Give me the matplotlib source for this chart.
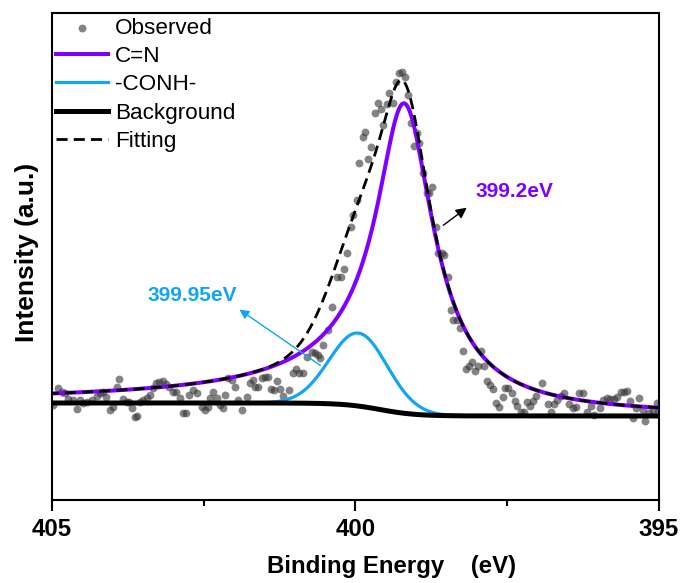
import numpy as np
import matplotlib
matplotlib.use('Agg')
import matplotlib.pyplot as plt

plt.rcParams['font.family'] = ['Liberation Sans', 'DejaVu Sans']

# N 1s spectrum, observed points (binding energy in eV, intensity in counts)
be_obs = [404.98, 404.90, 404.84, 404.79, 404.74, 404.65, 404.59, 404.54, 404.49, 404.42,
          404.34, 404.26, 404.21, 404.16, 404.11, 404.04, 403.99, 403.93, 403.90, 403.83,
          403.76, 403.73, 403.68, 403.63, 403.60, 403.55, 403.50, 403.44, 403.39, 403.34,
          403.29, 403.24, 403.17, 403.12, 403.07, 403.01, 402.96, 402.89, 402.84, 402.79,
          402.74, 402.68, 402.61, 402.53, 402.48, 402.43, 402.40, 402.35, 402.28, 402.23,
          402.18, 402.15, 402.10, 402.03, 401.99, 401.94, 401.87, 401.79, 401.74, 401.69,
          401.66, 401.61, 401.54, 401.49, 401.44, 401.39, 401.34, 401.29, 401.24, 401.19,
          401.10, 401.03, 400.98, 400.93, 400.86, 400.80, 400.72, 400.67, 400.62, 400.58,
          400.54, 400.45, 400.39, 400.30, 400.24, 400.19, 400.14, 400.07, 400.04, 399.98,
          399.94, 399.88, 399.84, 399.79, 399.74, 399.68, 399.63, 399.58, 399.55, 399.48,
          399.45, 399.38, 399.33, 399.28, 399.23, 399.18, 399.14, 399.09, 399.04, 398.99,
          398.95, 398.89, 398.82, 398.79, 398.74, 398.67, 398.64, 398.58, 398.54, 398.48,
          398.43, 398.39, 398.33, 398.28, 398.23, 398.18, 398.13, 398.08, 398.03, 397.98,
          397.93, 397.88, 397.83, 397.78, 397.73, 397.69, 397.64, 397.57, 397.54, 397.49,
          397.42, 397.37, 397.34, 397.27, 397.22, 397.17, 397.13, 397.08, 397.03, 396.93,
          396.83, 396.78, 396.73, 396.68, 396.61, 396.56, 396.48, 396.42, 396.37, 396.32,
          396.25, 396.19, 396.12, 396.07, 395.97, 395.92, 395.86, 395.81, 395.74, 395.69,
          395.63, 395.58, 395.53, 395.48, 395.43, 395.38, 395.33, 395.26, 395.23, 395.16,
          395.10, 395.03, 395.02]
int_obs = [950, 1120, 1080, 1070, 1010, 1000, 910, 1000, 970, 980,
           1000, 1040, 1070, 1080, 1030, 900, 930, 1130, 1210, 1010,
           980, 980, 920, 830, 840, 980, 1000, 1020, 1050, 1120,
           1170, 1180, 1190, 1160, 1130, 1080, 1080, 1020, 870, 870,
           1050, 1100, 1070, 930, 900, 930, 1020, 1080, 1020, 950,
           920, 1050, 1220, 1200, 1130, 1000, 900, 1030, 1170, 1200,
           1130, 1130, 1220, 1230, 1230, 1110, 1100, 1190, 1110, 1040,
           1100, 1270, 1310, 1270, 1270, 1430, 1480, 1470, 1450, 1420,
           1550, 1700, 1930, 2230, 2230, 2310, 2470, 2730, 2850, 3000,
           3370, 3630, 3680, 3410, 3530, 3870, 3970, 3910, 3750, 3960,
           4070, 3970, 4180, 4270, 4280, 4230, 4050, 3770, 3540, 3670,
           3570, 3270, 3070, 3070, 3130, 2730, 2470, 2470, 2450, 2230,
           1900, 1800, 1800, 1720, 1490, 1310, 1340, 1380, 1290, 1340,
           1490, 1340, 1190, 1150, 1110, 970, 930, 1030, 1120, 1120,
           1070, 990, 940, 880, 880, 980, 940, 990, 1040, 1170,
           960, 880, 960, 1000, 1040, 1070, 960, 920, 930, 1070,
           1070, 880, 940, 850, 920, 1000, 1020, 1010, 1010, 1030,
           1080, 1080, 1090, 990, 820, 920, 1020, 900, 790, 870,
           900, 970, 880]

# fit parameters
bg_high, bg_low = 970, 840          # background level on the high / low BE side
bg_step_center, bg_step_width = 399.6, 0.3
cn_center, cn_height = 399.2, 3100  # C=N component
cn_hw_high, cn_hw_low = 0.484, 0.566
cn_p_high, cn_p_low = 0.7, 0.9
conh_center, conh_height, conh_sigma = 399.95, 730, 0.48  # -CONH- component

be = np.linspace(395, 405, 1001)
background = bg_low + (bg_high - bg_low) / (1 + np.exp(-(be - bg_step_center) / bg_step_width))

d = be - cn_center
hw = np.where(d > 0, cn_hw_high, cn_hw_low)
pw = np.where(d > 0, cn_p_high, cn_p_low)
cn = cn_height / (1 + (d / hw) ** 2) ** pw
conh = conh_height * np.exp(-(be - conh_center) ** 2 / (2 * conh_sigma ** 2))

purple = '#8000ff'
blue = '#10a5f5'

fig = plt.figure(figsize=(6.86, 5.83), dpi=100)
ax = fig.add_axes([0.0758, 0.1424, 0.8848, 0.8353])

ax.scatter(be_obs, int_obs, s=32, color='#333333', alpha=0.6, linewidths=0,
           label='Observed', zorder=1)
ax.plot(be, background + cn, color=purple, lw=2.9, label='C=N', zorder=3)
ax.plot(be, background + conh, color=blue, lw=2.3, label='-CONH-', zorder=3)
ax.plot(be, background, color='black', lw=3.6, label='Background', zorder=3)
ax.plot(be, background + cn + conh, color='black', lw=2.0, dashes=(4, 2.2),
        label='Fitting', zorder=4)

# peak labels
ax.annotate('', xy=(398.13, 2940), xytext=(398.59, 2730),
            arrowprops=dict(arrowstyle='-|>', color='black', lw=1, mutation_scale=16))
ax.text(398.02, 3080, '399.2eV', fontsize=15, fontweight='bold', color=purple,
        ha='left', va='center')
ax.annotate('', xy=(401.95, 1920), xytext=(400.54, 1330),
            arrowprops=dict(arrowstyle='-|>', color=blue, lw=1, mutation_scale=14))
ax.text(403.42, 2040, '399.95eV', fontsize=15, fontweight='bold', color=blue,
        ha='left', va='center')

ax.set_xlim(405, 395)
ax.set_ylim(0, 4870)
ax.set_xticks([405, 400, 395])
ax.set_xticks([402.5, 397.5], minor=True)
ax.set_yticks([])
ax.tick_params(axis='x', which='major', direction='out', length=8, width=1.5,
               labelsize=17.3, pad=5)
ax.tick_params(axis='x', which='minor', direction='out', length=4, width=1.5)
for lab in ax.get_xticklabels():
    lab.set_fontweight('bold')
for sp in ax.spines.values():
    sp.set_linewidth(1.5)

ax.set_xlabel('Binding Energy    (eV)', fontsize=17.3, fontweight='bold')
ax.xaxis.set_label_coords(0.56, -0.112)
ax.set_ylabel('Intensity (a.u.)', fontsize=19, fontweight='bold')
ax.yaxis.set_label_coords(-0.022, 0.508)

ax.legend(loc='upper left', frameon=False, fontsize=16.2, borderaxespad=0.1,
          borderpad=0.1, handlelength=2.3, handletextpad=0.3, labelspacing=0.33)

fig.savefig('out.png', dpi=100)
